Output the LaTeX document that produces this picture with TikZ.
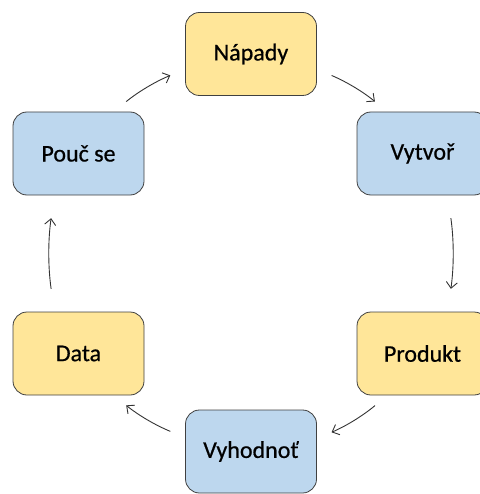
\documentclass[tikz,border=0pt]{standalone}
\usepackage{fontspec}
\setmainfont{Carlito}
\newfontfamily\boxfont{Carlito}[FakeBold=0.6]
\usetikzlibrary{arrows.meta}

\definecolor{boxyellow}{HTML}{FFE699}
\definecolor{boxblue}{HTML}{BDD7EE}

\tikzset{
          box/.style = {fill = #1, draw = black!75, line width = 0.8pt, rounded corners = 14pt,
                        minimum width = 131pt, minimum height = 83pt, inner sep = 0pt,
                        font = \fontsize{24}{28}\boxfont},
          flow/.style = {draw = black!80, line width = 0.9pt, bend left = 8,
                         -{Straight Barb[length=6pt,width=11pt]}}
        }

\begin{document}
\begin{tikzpicture}[x=1pt,y=-1pt]
          \useasboundingbox (0,0) rectangle (479,494);

          \node[box=boxyellow] (napady)   at (251,54)    {Nápady};
          \node[box=boxblue]   (vytvor)   at (422.5,153.5) {Vytvoř};
          \node[box=boxyellow] (produkt)  at (422.5,353.5) {Produkt};
          \node[box=boxblue]   (vyhodnot) at (251,451.5) {Vyhodnoť};
          \node[box=boxyellow] (data)     at (78.5,353.5)  {Data};
          \node[box=boxblue]   (pouc)     at (78.5,153.5)  {Pouč se};

          \foreach \a/\b/\s in {pouc.50/napady.193/16, napady.-13/vytvor.130/16,
                                vytvor.-59/produkt.59/23, produkt.230/vyhodnot.11.5/16,
                                vyhodnot.168.5/data.310/16, data.120/pouc.240/23}{
            \draw[flow, shorten <= \s pt, shorten >= \s pt] (\a) to (\b);
          }
        \end{tikzpicture}
\end{document}
